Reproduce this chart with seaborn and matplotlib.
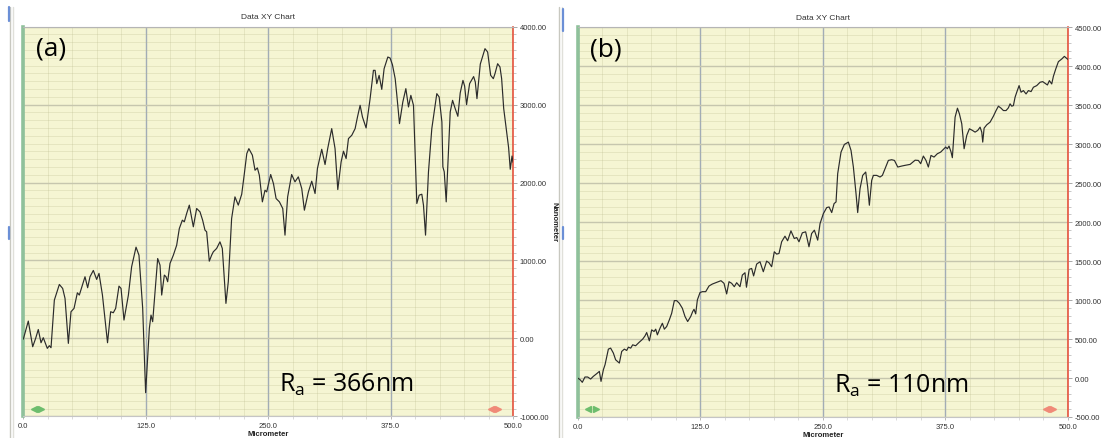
import numpy as np
import pandas as pd
import matplotlib
matplotlib.use("Agg")
import matplotlib.pyplot as plt
import seaborn as sns
from matplotlib.ticker import MultipleLocator, FormatStrFormatter
from matplotlib.lines import Line2D

# ---------------- data ----------------
x_a = [0, 5.1, 9.6, 12.6, 15.3, 18.1, 20.4, 24.5, 26.6, 28.3, 31.7, 36.8, 40.2, 42.6, 46, 48.7, 51.8,
       55.2, 57.2, 63, 65.7, 68.1, 71.5, 74.9, 77.3, 80.8, 86, 89.2, 91.9, 94.3, 97.7, 99.8, 102.8,
       107.3, 110.6, 115.1, 118.1, 121.9, 124.9, 128.7, 130.4, 132.1, 137.2, 139.6, 141.3, 144, 145.7,
       147.4, 149.8, 153.2, 156.6, 159.3, 162.4, 164.4, 166.8, 169.5, 173.6, 177, 180.4, 183.1, 185.5,
       187.2, 189.9, 192.3, 194, 197.4, 200.8, 203.2, 206.9, 209.3, 212.7, 216.1, 219.5, 223, 225.5,
       228.2, 230.3, 233.9, 236.6, 239, 241, 244.1, 246.8, 248.5, 252.6, 255.4, 258.1, 261.5, 264.9,
       267.2, 269.9, 274, 277.4, 280.8, 284.3, 287, 291.1, 294.5, 297.9, 300.3, 304.7, 308.1, 310.8,
       314.9, 318.3, 321.1, 324.5, 326.9, 329.6, 332, 335.4, 338.8, 341.2, 343.9, 346.3, 350, 354.1,
       357.5, 359.2, 360.9, 363.3, 366, 368.4, 372.2, 374.5, 376.9, 379.7, 381.4, 384.1, 387.5, 390.6,
       393.3, 395.7, 398.4, 401.8, 404.2, 406.9, 408.6, 410.7, 413.7, 417.1, 422.2, 424.6, 427.4, 428.4,
       429.8, 431.8, 435.9, 438.3, 441, 443.7, 446.1, 448.9, 450.6, 452.6, 455.7, 459.8, 461.5, 463.2,
       466.6, 471.4, 474.1, 477.2, 479.9, 481.6, 484.3, 486.7, 488.4, 490.5, 492.5, 495.5, 497.2, 499, 500]
y_a = [-10, 222, -107, 0, 114, -56, 9, -128, -94, -120, 491, 692, 641, 513, -64, 342, 385,
       585, 556, 791, 650, 791, 872, 757, 834, 556, -56, 342, 329, 385, 671, 641, 235,
       556, 919, 1171, 1068, 385, -697, 128, 299, 214, 1025, 940, 556, 812, 791,
       727, 962, 1068, 1196, 1410, 1517, 1496, 1603, 1710, 1432, 1667, 1624, 1517, 1389,
       1368, 991, 1068, 1111, 1154, 1239, 1154, 449, 727, 1538, 1816, 1710, 1850, 2094,
       2372, 2435, 2351, 2158, 2188, 2094, 1752, 1902, 1880, 2103, 1987, 1795, 1752, 1667,
       1325, 1816, 2103, 2009, 2073, 1923, 1645, 1880, 2017, 1859, 2179, 2427, 2231, 2436,
       2692, 2436, 1910, 2265, 2402, 2308, 2564, 2607, 2692, 2841, 2991, 2841, 2701, 3077,
       3440, 3440, 3269, 3376, 3196, 3461, 3611, 3598, 3512, 3333, 3119, 2756, 3034, 3205,
       2970, 3119, 2991, 1731, 1838, 1850, 1709, 1325, 2137, 2692, 3141, 3098, 2777, 2201,
       2137, 1752, 2906, 3055, 2948, 2850, 3150, 3311, 3239, 3000, 3270, 3360, 3290, 3077,
       3520, 3718, 3675, 3376, 3333, 3397, 3525, 3483, 3333, 2950, 2750, 2450, 2170, 2340, 2260]

x_b = [0, 2.4, 4.7, 7.4, 10.2, 13.2, 15.9, 19.3, 22.1, 23.8, 26.2, 27.9, 31.3, 33.6, 36.4, 38.7, 42.5,
       44.9, 47.6, 50, 51.7, 54.1, 56.1, 59.1, 62.5, 66.3, 68.7, 70.4, 73.1, 75.5, 77.9, 79.6, 81.3,
       84, 86.4, 88.4, 90.8, 93.5, 95.9, 98.6, 101, 103.7, 106.8, 109.5, 112.2, 115.3, 117.3, 118.7,
       120.4, 122.1, 124.8, 127.2, 130.6, 134, 137.4, 141.8, 146.2, 149.3, 152, 154.4, 157.1, 159.8,
       162.2, 165.6, 168, 170.7, 172.2, 175, 177.5, 179.5, 182.6, 186, 189.4, 192.8, 195.2, 197.9,
       200.6, 203, 205.4, 208.1, 211.5, 214.2, 217.6, 221, 223.5, 225.8, 229.2, 232.6, 236, 238.7,
       241.5, 244.9, 247.3, 250.7, 254.1, 256.5, 259.2, 261.6, 263.6, 265.3, 268.7, 272.1, 276.2,
       278.9, 281.3, 284, 285.7, 288.1, 290.8, 293.9, 295.9, 297.6, 300, 301.7, 305.1, 308.5, 310.9,
       313.6, 317, 320.4, 323.2, 326.6, 330.7, 334.1, 339.2, 344.3, 347.6, 350, 352.7, 355.4, 357.8,
       360.5, 363.6, 367, 370.4, 373.1, 375.5, 377.2, 378.9, 381, 382.3, 384.1, 385.1, 387.5, 389.5,
       391.9, 394.3, 397, 399.7, 402.8, 405.5, 408.2, 410.6, 412.3, 413.3, 414.7, 417.4, 420.8, 424.2,
       426.9, 429.3, 432, 434.4, 437.1, 439.5, 441.2, 442.9, 444.6, 446.3, 448, 450.4, 452.4, 454.8,
       457.5, 459.9, 462.6, 465, 468.4, 471.8, 474.5, 476.9, 479.3, 481.3, 483.7, 485.4, 487.8, 490.5,
       493.9, 496.6, 499, 500]
y_b = [0, -21, -55, 13, 13, -13, 21, 55, 85, -43, 107, 171, 371, 384, 320, 234, 192,
       341, 371, 354, 396, 384, 426, 414, 456, 499, 541, 584, 477, 618, 597, 627, 554,
       639, 703, 627, 661, 746, 831, 993, 993, 959, 895, 789, 725, 789, 852, 882,
       823, 1002, 1096, 1108, 1108, 1181, 1206, 1228, 1249, 1215, 1079, 1236, 1215, 1172,
       1223, 1172, 1321, 1351, 1165, 1395, 1406, 1310, 1462, 1492, 1364, 1500, 1479, 1428,
       1620, 1590, 1598, 1748, 1820, 1761, 1888, 1790, 1803, 1748, 1863, 1876, 1684, 1854,
       1897, 1769, 1982, 2110, 2187, 2195, 2123, 2238, 2259, 2622, 2899, 2997, 3027,
       2920, 2707, 2366, 2123, 2430, 2600, 2643, 2451, 2217, 2536, 2600, 2600, 2579, 2600,
       2686, 2792, 2801, 2792, 2707, 2720, 2729, 2741, 2795, 2792, 2750, 2848, 2792, 2707,
       2856, 2835, 2878, 2899, 2933, 2963, 2942, 2976, 2899, 2827, 3155, 3347, 3462, 3390,
       3262, 2942, 3113, 3198, 3177, 3155, 3177, 3219, 3155, 3027, 3206, 3249, 3283, 3360,
       3432, 3488, 3462, 3432, 3432, 3467, 3518, 3488, 3496, 3603, 3667, 3752, 3667, 3688,
       3645, 3688, 3675, 3731, 3752, 3795, 3803, 3782, 3760, 3816, 3773, 3871, 3965, 4059,
       4093, 4127, 4102, 4090]

panel_labels = ["(a)", "(b)"]
ra_labels = ["$\\mathregular{R_a}$ = 366nm", "$\\mathregular{R_a}$ = 110nm"]
y_limits = [(-1000, 4000), (-500, 4500)]
y_major = [1000, 500]
chart_title = "Data XY Chart"
x_label = "Micrometer"
y_label = "Nanometer"

# ---------------- style ----------------
sns.set_style("white")
plt.rcParams["font.family"] = ["Liberation Sans", "DejaVu Sans"]

W, H = 1103, 439
fig = plt.figure(figsize=(W / 100, H / 100), dpi=100)
fig.patch.set_facecolor("white")

def fx(px):
    return px / W

def fy(py):
    return 1 - py / H

axes_px = [(23.3, 27.7, 513.0, 417.3), (577.7, 28.3, 1067.7, 418.0)]
data = [(x_a, y_a), (x_b, y_b)]

for i, (l, t, r, b) in enumerate(axes_px):
    ax = fig.add_axes([fx(l), fy(b), fx(r - l), (b - t) / H])
    ax.set_facecolor("#f5f5d3")
    df = pd.DataFrame({"x": data[i][0], "y": data[i][1]})
    sns.lineplot(data=df, x="x", y="y", ax=ax, color="#2b2b2b", linewidth=0.85,
                 estimator=None, sort=False, zorder=5)
    ax.set_xlim(0, 500)
    ax.set_ylim(*y_limits[i])
    ax.xaxis.set_major_locator(MultipleLocator(125))
    ax.xaxis.set_minor_locator(MultipleLocator(25))
    ax.yaxis.set_major_locator(MultipleLocator(y_major[i]))
    ax.yaxis.set_minor_locator(MultipleLocator(100))
    ax.xaxis.set_major_formatter(FormatStrFormatter("%.1f"))
    ax.yaxis.set_major_formatter(FormatStrFormatter("%.2f"))
    ax.yaxis.tick_right()
    ax.yaxis.set_label_position("right")
    ax.xaxis.grid(True, which="major", color="#a2acb6", linewidth=1.0)
    ax.yaxis.grid(True, which="major", color="#c6c6ae", linewidth=1.0)
    ax.xaxis.grid(True, which="minor", color="#b8b88a", alpha=0.3, linewidth=0.6)
    ax.yaxis.grid(True, which="minor", color="#b8b88a", alpha=0.3, linewidth=0.6)
    ax.set_axisbelow(True)
    ax.tick_params(axis="y", which="major", right=True, left=False, length=3, width=0.6,
                   color="#9a9a9a", labelsize=5.5, labelcolor="#333333", pad=2)
    ax.tick_params(axis="y", which="minor", right=True, left=False, length=2, width=0.5,
                   color="#b0b0b0")
    ax.tick_params(axis="x", which="major", bottom=True, length=2, width=0.5, color="#9a9a9a",
                   labelsize=5.5, labelcolor="#333333", pad=2)
    ax.tick_params(axis="x", which="minor", bottom=True, length=2, width=0.4, color="#c0c0c0")
    for s, c, w in [("left", "#8fc19b", 2.6), ("right", "#e5533d", 1.2),
                    ("top", "#b5b5b5", 0.8), ("bottom", "#c5c5c5", 0.8)]:
        ax.spines[s].set_color(c)
        ax.spines[s].set_linewidth(w)
        ax.spines[s].set_visible(True)
    ax.set_title(chart_title, fontsize=6, color="#333333", pad=6)
    ax.set_xlabel(x_label, fontsize=5.5, fontweight="bold", labelpad=1, color="#222222")
    if i == 0:
        ax.set_ylabel(y_label, fontsize=5.5, fontweight="bold", rotation=270, color="#222222")
        ax.yaxis.set_label_coords(1.09, 0.5)
    else:
        ax.set_ylabel("")
    ax.text(0.057, 0.945, panel_labels[i], transform=ax.transAxes, fontsize=19,
            family=["Open Sans", "DejaVu Sans"], ha="center", va="center", color="black")
    ax.text(0.66, 0.065, ra_labels[i], transform=ax.transAxes, fontsize=18,
            family=["Open Sans", "DejaVu Sans"], ha="center", va="baseline", color="black")
    # navigation arrows
    ax.plot([0.022], [0.02], marker="<", color="#6dbd6d", markersize=5, transform=ax.transAxes,
            clip_on=False, zorder=6)
    ax.plot([0.037], [0.02], marker=">", color="#6dbd6d", markersize=5, transform=ax.transAxes,
            clip_on=False, zorder=6)
    ax.plot([0.955], [0.02], marker="<", color="#f08a78", markersize=5, transform=ax.transAxes,
            clip_on=False, zorder=6)
    ax.plot([0.97], [0.02], marker=">", color="#f08a78", markersize=5, transform=ax.transAxes,
            clip_on=False, zorder=6)

# window chrome strips
for xp, col, lw in [(10, "#c8c8c0", 1.0), (13, "#e0e0da", 1.0), (559, "#c8c8c0", 1.0), (562, "#e0e0da", 1.0)]:
    fig.add_artist(Line2D([fx(xp), fx(xp)], [fy(8), fy(439)], color=col, linewidth=lw))
for xp, y0, y1 in [(9, 8, 22), (563, 10, 32), (9, 228, 240), (563, 228, 240)]:
    fig.add_artist(Line2D([fx(xp), fx(xp)], [fy(y0), fy(y1)], color="#6b8fd6", linewidth=1.6))

fig.savefig("out.png", dpi=100, facecolor="white")
